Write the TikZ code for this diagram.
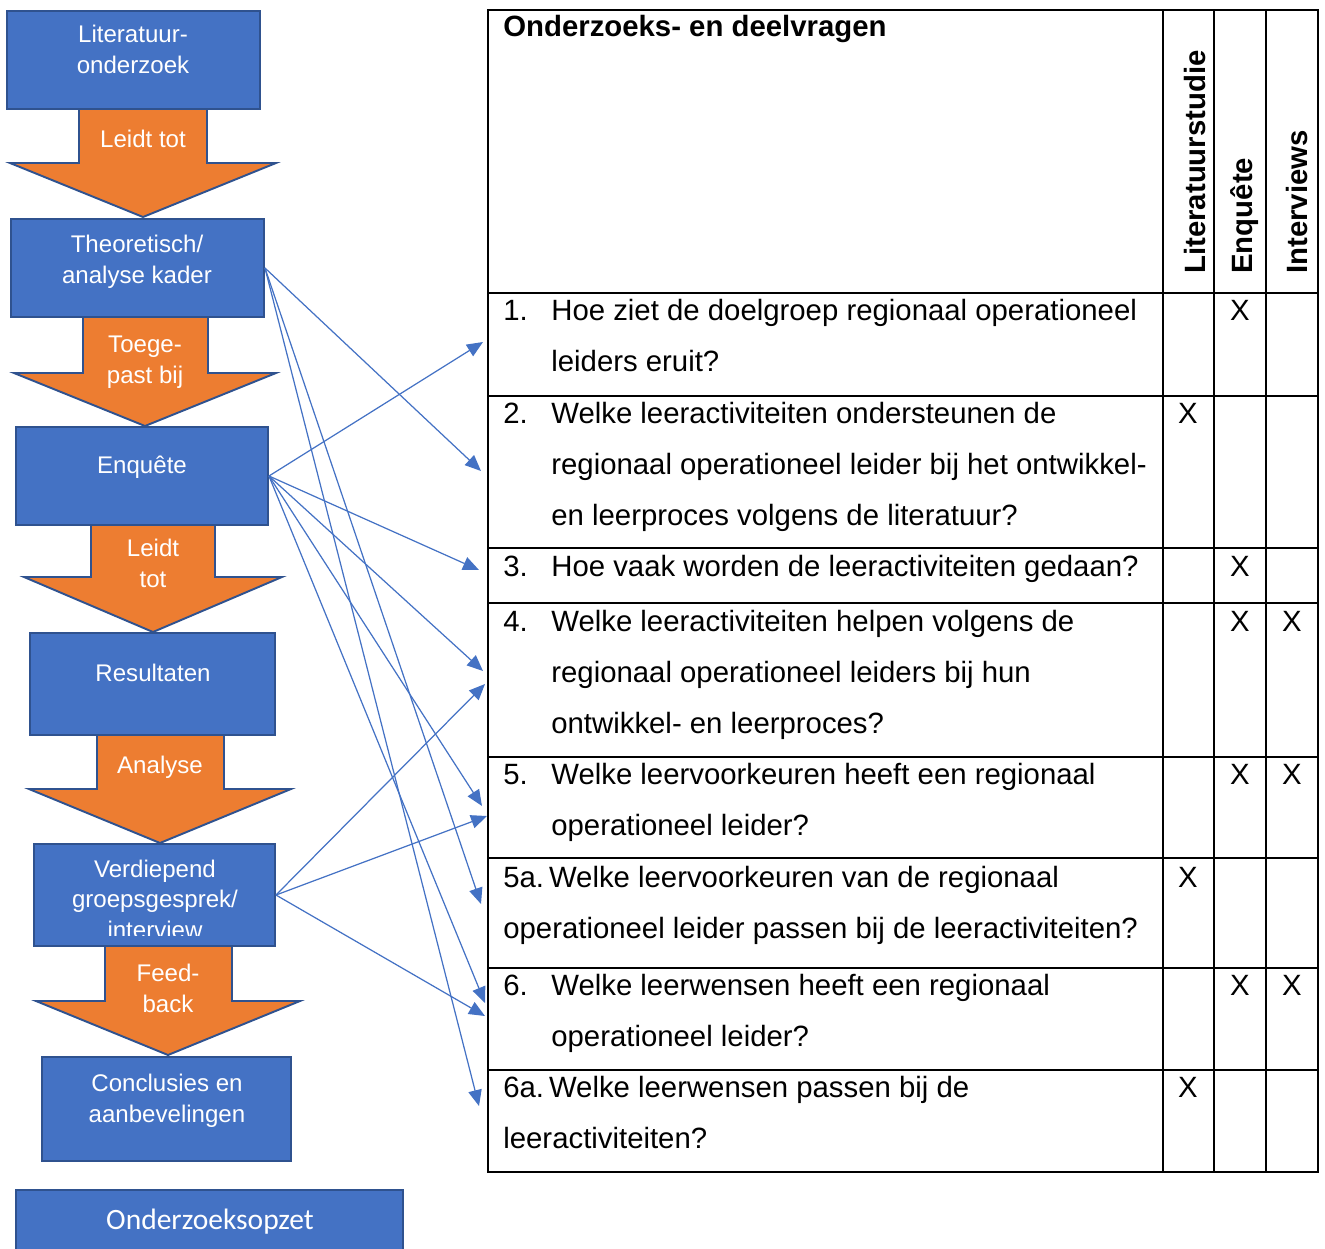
\documentclass[tikz,border=0pt]{standalone}
\usepackage{fontspec}
\setmainfont{Liberation Sans}
\newfontfamily\calibri{Carlito}
\usetikzlibrary{arrows.meta, fit}
\definecolor{boxblue}{HTML}{4472C4}
\definecolor{boxedge}{HTML}{2F528F}
\definecolor{flow}{HTML}{ED7D31}

\begin{document}
\begin{tikzpicture}[x=0.02cm, y=-0.02cm,
    flowbox/.style={draw=boxedge, fill=boxblue, line width=1.1pt, inner sep=0pt},
    boxtext/.style={text=white, align=center, inner sep=0pt, anchor=base, font=\fontsize{13.7}{17.1}\selectfont},
    bigarrow/.style={draw=boxedge, fill=flow, line width=1.1pt, line join=miter},
    link/.style={-{Triangle[length=0.32cm, width=0.27cm]}, boxblue, line width=0.7pt},
    grid/.style={line width=1.3pt},
    qtext/.style={anchor=base west, align=left, inner sep=0pt, font=\fontsize{16.7}{29}\selectfont},
    colhead/.style={anchor=base west, rotate=90, inner sep=0pt, font=\fontsize{16.7}{20}\selectfont\bfseries},
    xmark/.style={anchor=base, inner sep=0pt, font=\fontsize{16.7}{20}\selectfont},
]
\useasboundingbox (0,0) rectangle (1325,1248);

% Flow boxes (multi-line texts sit on their last baseline)
\node[flowbox, fit={(7,11) (260,109)}] (lit) {};
\node[flowbox, fit={(11,219) (264,317)}] (theo) {};
\node[flowbox, fit={(16,427) (268,525)}] (enq) {};
\node[flowbox, fit={(30,633) (275,735)}] (res) {};
\node[flowbox, fit={(34,844) (275,946)}] (verd) {};
\node[flowbox, fit={(42,1057) (291,1161)}] (concl) {};
\node[flowbox, fit={(16,1190) (403,1262)}] (opzet) {};

\node[boxtext] (littxt) at (133,73) {Literatuur-\\onderzoek};
\node[boxtext] (theotxt) at (137,283) {Theoretisch/\\analyse kader};
\node[boxtext] (enqtxt) at (142,473) {Enquête};
\node[boxtext] (restxt) at (153,681) {Resultaten};
\begin{scope}
    \clip (34,844) rectangle (275,935);
    \node[boxtext] (verdtxt) at (155,938) {Verdiepend\\groepsgesprek/\\interview};
\end{scope}
\node[boxtext] (concltxt) at (167,1122) {Conclusies en\\aanbevelingen};
\node[anchor=base, inner sep=0pt, text=white, font=\calibri\fontsize{16.8}{19}\selectfont] (opzettxt) at (210,1229) {Onderzoeksopzet};

% Block arrows
\draw[bigarrow] (79,109) -- (207,109) -- (207,163) -- (276,163) -- (143,217) -- (10,163) -- (79,163) -- cycle;
\draw[bigarrow] (83,317) -- (208,317) -- (208,373) -- (276,373) -- (145,426) -- (14,373) -- (83,373) -- cycle;
\draw[bigarrow] (91,525) -- (215,525) -- (215,577) -- (282,577) -- (153,632) -- (24,577) -- (91,577) -- cycle;
\draw[bigarrow] (97,735) -- (224,735) -- (224,789) -- (291,789) -- (160,843) -- (29,789) -- (97,789) -- cycle;
\draw[bigarrow] (105,946) -- (232,946) -- (232,1001) -- (300,1001) -- (168,1055) -- (36,1001) -- (105,1001) -- cycle;

\node[boxtext] (a1txt) at (143,147) {Leidt tot};
\node[boxtext] (a2txt) at (145,383) {Toege-\\past bij};
\node[boxtext] (a3txt) at (153,587) {Leidt\\tot};
\node[boxtext] (a4txt) at (160,773) {Analyse};
\node[boxtext] (a5txt) at (168,1012) {Feed-\\back};

% Table
\draw[grid] (488,10) rectangle (1318,1172);
\foreach \xx in {1163,1214,1266}
    \draw[grid] (\xx,10) -- (\xx,1172);
\foreach \yy in {293,396,548,603,757,858,968,1070}
    \draw[grid] (488,\yy) -- (1318,\yy);

\node[qtext] (hdr) at (503,36) {\bfseries Onderzoeks- en deelvragen};
\node[colhead] (hlit) at (1205,274) {Literatuurstudie};
\node[colhead] (henq) at (1252,274) {Enquête};
\node[colhead] (hint) at (1307,274) {Interviews};

\node[qtext] (n1) at (503,320) {1.};
\node[qtext] (q1) at (551,371) {Hoe ziet de doelgroep regionaal operationeel\\leiders eruit?};
\node[qtext] (n2) at (503,423) {2.};
\node[qtext] (q2) at (551,525) {Welke leeractiviteiten ondersteunen de\\regionaal operationeel leider bij het ontwikkel-\\en leerproces volgens de literatuur?};
\node[qtext] (n3) at (503,576) {3.};
\node[qtext] (q3) at (551,576) {Hoe vaak worden de leeractiviteiten gedaan?};
\node[qtext] (n4) at (503,631) {4.};
\node[qtext] (q4) at (551,733) {Welke leeractiviteiten helpen volgens de\\regionaal operationeel leiders bij hun\\ontwikkel- en leerproces?};
\node[qtext] (n5) at (503,784) {5.};
\node[qtext] (q5) at (551,835) {Welke leervoorkeuren heeft een regionaal\\operationeel leider?};
\node[qtext] (q5a) at (503,938) {5a.\,Welke leervoorkeuren van de regionaal\\operationeel leider passen bij de leeractiviteiten?};
\node[qtext] (n6) at (503,995) {6.};
\node[qtext] (q6) at (551,1046) {Welke leerwensen heeft een regionaal\\operationeel leider?};
\node[qtext] (q6a) at (503,1148) {6a.\,Welke leerwensen passen bij de\\leeractiviteiten?};

% X marks
\node[xmark] (x1e) at (1240,320) {X};
\node[xmark] (x2l) at (1188,423) {X};
\node[xmark] (x3e) at (1240,576) {X};
\node[xmark] (x4e) at (1240,631) {X};
\node[xmark] (x4i) at (1292,631) {X};
\node[xmark] (x5e) at (1240,784) {X};
\node[xmark] (x5i) at (1292,784) {X};
\node[xmark] (x5al) at (1188,887) {X};
\node[xmark] (x6e) at (1240,995) {X};
\node[xmark] (x6i) at (1292,995) {X};
\node[xmark] (x6al) at (1188,1097) {X};

% Connector ends
\coordinate (t2) at (481,471);
\coordinate (t5a) at (481,904);
\coordinate (t6a) at (479,1106);
\coordinate (e1) at (483,342);
\coordinate (e3) at (479,570);
\coordinate (e4) at (483,671);
\coordinate (e5) at (482,806);
\coordinate (e6) at (485,1003);
\coordinate (v4) at (485,684);
\coordinate (v5) at (487,816);
\coordinate (v6) at (485,1016);

\draw[link] (theo.east) -- (t2);
\draw[link] (theo.east) -- (t5a);
\draw[link] (theo.east) -- (t6a);
\draw[link] (enq.east) -- (e1);
\draw[link] (enq.east) -- (e3);
\draw[link] (enq.east) -- (e4);
\draw[link] (enq.east) -- (e5);
\draw[link] (enq.east) -- (e6);
\draw[link] (verd.east) -- (v4);
\draw[link] (verd.east) -- (v5);
\draw[link] (verd.east) -- (v6);

\end{tikzpicture}
\end{document}
